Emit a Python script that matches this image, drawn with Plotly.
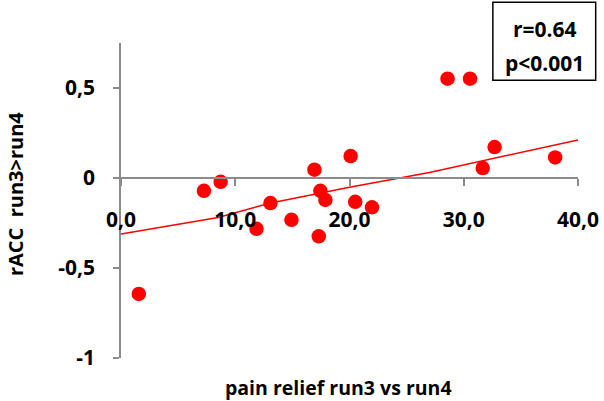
import plotly.graph_objects as go

# Scatter data: pain relief (run3 vs run4) against rACC contrast
pain_relief = [28.58, 30.55, 32.70, 38.00, 31.66, 20.10, 16.93, 8.72, 7.26,
               17.45, 17.89, 13.08, 20.50, 21.97, 14.92, 11.86, 17.31, 1.56]
racc = [0.552, 0.552, 0.172, 0.114, 0.055, 0.122, 0.046, -0.021, -0.071,
        -0.071, -0.122, -0.139, -0.132, -0.163, -0.232, -0.282, -0.324, -0.644]

# Trend line samples
trend_x = [0.0, 4.2, 8.5, 13.0, 20.0, 27.0, 40.0]
trend_y = [-0.311, -0.265, -0.219, -0.140, -0.052, 0.031, 0.211]

x_ticks = [0, 10, 20, 30, 40]
x_ticktext = ["0,0", "10,0", "20,0", "30,0", "40,0"]
y_ticks = [-1, -0.5, 0, 0.5]
y_ticktext = ["-1", "-0,5", "0", "0,5"]

stats_lines = ["r=0.64", "p&lt;0.001"]

FONT = "Open Sans"
AXIS_GREY = "#8c8c8c"

fig = go.Figure()
fig.add_trace(go.Scatter(
    x=trend_x, y=trend_y, mode="lines",
    line=dict(color="#ff0000", width=1.5),
    hoverinfo="skip", showlegend=False,
))
fig.add_trace(go.Scatter(
    x=pain_relief, y=racc, mode="markers",
    marker=dict(color="#ff0000", size=14.5, line=dict(width=0)),
    showlegend=False,
))

y_min, y_max = -1.0, 0.75

fig.update_layout(
    width=604, height=401,
    margin=dict(l=120.5, r=25.7, t=42.7, b=43.3),
    paper_bgcolor="white", plot_bgcolor="white",
    font=dict(family=FONT, color="black"),
    xaxis=dict(
        range=[0, 40], anchor="free", position=(0 - y_min) / (y_max - y_min),
        automargin=False,
        showline=True, linecolor=AXIS_GREY, linewidth=1.5,
        ticks="outside", ticklen=7, tickwidth=1.5, tickcolor=AXIS_GREY,
        tickvals=x_ticks, ticktext=x_ticktext, ticklabelstandoff=16,
        tickfont=dict(family=FONT, size=21, weight="bold", color="black"),
        showgrid=False, zeroline=False,
    ),
    yaxis=dict(
        range=[y_min, y_max], domain=[0, 1], automargin=False,
        showline=True, linecolor=AXIS_GREY, linewidth=1.5,
        ticks="outside", ticklen=6, tickwidth=1.5, tickcolor=AXIS_GREY,
        tickvals=y_ticks, ticktext=y_ticktext, ticklabelstandoff=14,
        tickfont=dict(family=FONT, size=21, weight="bold", color="black"),
        showgrid=False, zeroline=False,
    ),
)

# Axis titles
fig.add_annotation(
    text="pain relief run3 vs run4", xref="paper", yref="paper",
    x=0.475, y=-0.093, xanchor="center", yanchor="middle", showarrow=False,
    borderpad=0, font=dict(family=FONT, size=19.5, weight="bold", color="black"),
)
fig.add_annotation(
    text="rACC  run3>run4", xref="paper", yref="paper", textangle=-90,
    x=-0.2294, y=0.521, xanchor="center", yanchor="middle", showarrow=False,
    borderpad=0, font=dict(family=FONT, size=20, weight="bold", color="black"),
)

# Correlation statistics box
fig.add_shape(
    type="rect", xref="paper", yref="paper",
    x0=0.8137, x1=1.0387, y0=0.8816, y1=1.129,
    line=dict(color="black", width=1.5), fillcolor="white",
)
for txt, yp in zip(stats_lines, [1.046, 0.938]):
    fig.add_annotation(
        text=txt, xref="paper", yref="paper", x=0.927, y=yp,
        xanchor="center", yanchor="middle", showarrow=False,
        font=dict(family=FONT, size=21, weight="bold", color="black"),
    )

fig.write_html("out.html")
